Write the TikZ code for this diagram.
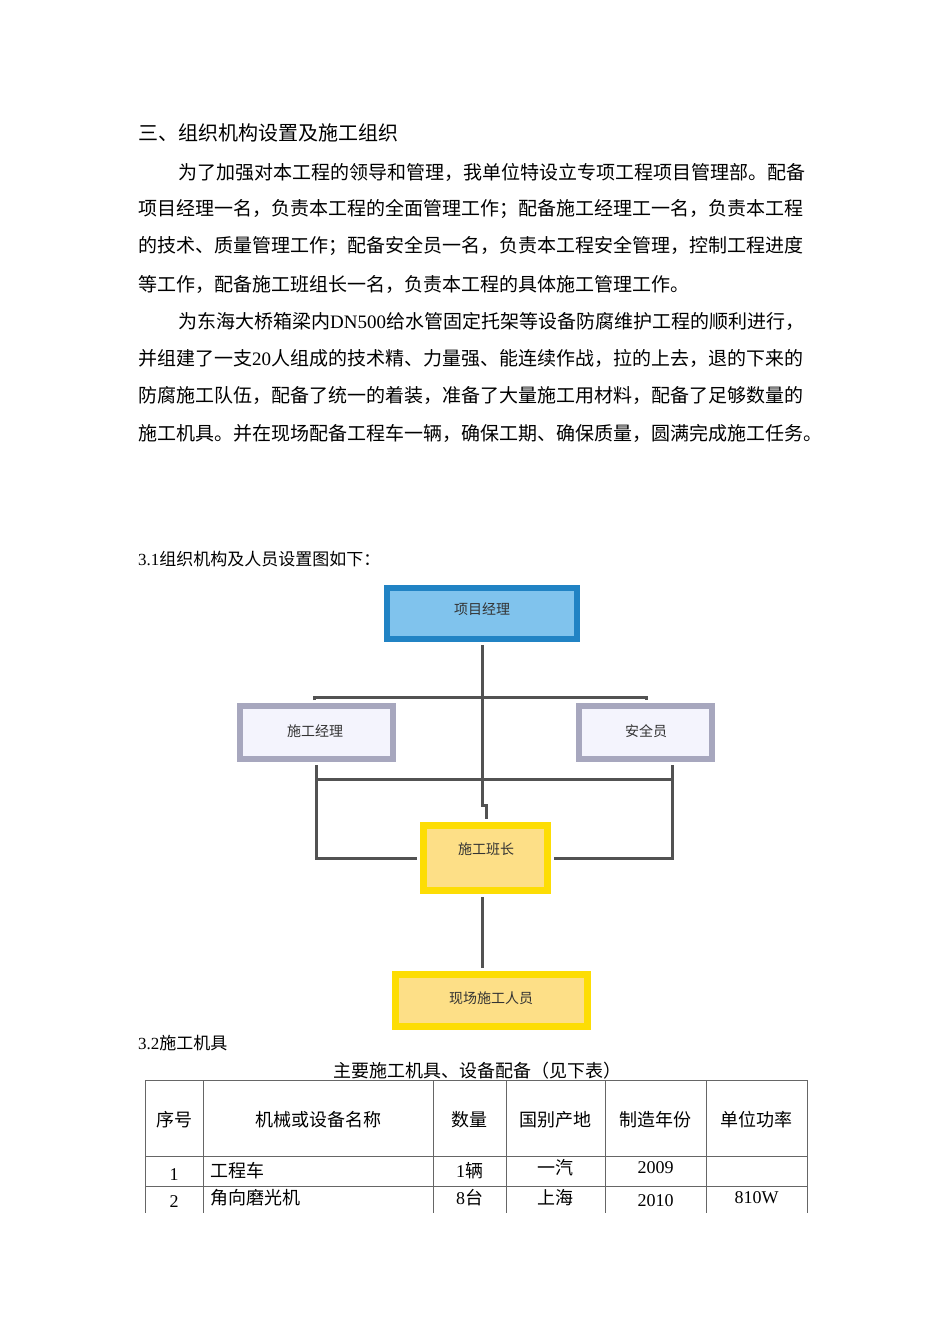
\documentclass[tikz,border=0pt]{standalone}
\usepackage{fontspec}
\setmainfont{Noto Sans CJK SC}
\newfontfamily\tnum{Liberation Serif}
\begin{document}
\begin{tikzpicture}[x=1pt,y=-1pt,
 body/.style={anchor=west,inner sep=0,font=\fontsize{19}{19}\selectfont},
 cell/.style={inner sep=0,font=\fontsize{18}{18}\selectfont},
 dtext/.style={font=\fontsize{14}{14}\selectfont,text=black!80},
 conn/.style={draw=black!68,line width=3pt},
 bluebox/.style={draw=cyan!70!blue!90!black,fill=cyan!45!white!90!blue,line width=6pt},
 graybox/.style={draw=gray!85!blue!60,fill=gray!30!blue!5,line width=6pt},
 yelbox/.style={draw=yellow!80!orange,fill=yellow!50!orange!45!white,line width=7pt}]
\useasboundingbox[fill=white] (0,0) rectangle (950,1344);
\node[body,font=\fontsize{20}{20}\selectfont] (h) at (138,133) {三、组织机构设置及施工组织};
\node[body] (p1) at (178,172) {为了加强对本工程的领导和管理，我单位特设立专项工程项目管理部。配备};
\node[body] (p2) at (138,209) {项目经理一名，负责本工程的全面管理工作；配备施工经理工一名，负责本工程};
\node[body] (p3) at (138,246) {的技术、质量管理工作；配备安全员一名，负责本工程安全管理，控制工程进度};
\node[body] (p4) at (138,284) {等工作，配备施工班组长一名，负责本工程的具体施工管理工作。};
\node[body] (p5) at (178,321) {为东海大桥箱梁内{\tnum DN500}给水管固定托架等设备防腐维护工程的顺利进行，};
\node[body] (p6) at (138,358) {并组建了一支{\tnum 20}人组成的技术精、力量强、能连续作战，拉的上去，退的下来的};
\node[body] (p7) at (138,395) {防腐施工队伍，配备了统一的着装，准备了大量施工用材料，配备了足够数量的};
\node[body] (p8) at (138,433) {施工机具。并在现场配备工程车一辆，确保工期、确保质量，圆满完成施工任务。};
\node[body,font=\fontsize{17}{17}\selectfont] (s1) at (138,559) {{\tnum 3.1}组织机构及人员设置图如下：};
% diagram
\node[bluebox,minimum width=190,minimum height=51] (pm) at (482,613.5) {};
\node[dtext] at (482,609) {项目经理};
\node[graybox,minimum width=153,minimum height=53] (sm) at (316.5,732.5) {};
\node[dtext] at (315,731) {施工经理};
\node[graybox,minimum width=133,minimum height=53] (sa) at (645.5,732.5) {};
\node[dtext] at (646,731) {安全员};
\node[yelbox,minimum width=124,minimum height=65] (bz) at (485.5,858) {};
\node[dtext] at (486,849) {施工班长};
\node[yelbox,minimum width=192,minimum height=52] (xc) at (491.5,1000.5) {};
\node[dtext] at (491,998) {现场施工人员};
\coordinate (jog) at (482,805);
\draw[conn] (pm.south) ++(0,3) -- (jog) -- ++(4,0) -- (486,819);
\draw[conn] (314,700) -- (314,697) -- (646,697) -- (646,700);
\draw[conn] (316,765) -- (316,858) -- (417,858);
\draw[conn] (672,765) -- (672,858) -- (554,858);
\draw[conn] (316,779) -- (672,779);
\draw[conn] (482,897) -- (482,968);
% table
\node[body,font=\fontsize{17}{17}\selectfont] (s2) at (138,1043) {{\tnum 3.2}施工机具};
\node[cell] (cap) at (477,1071) {主要施工机具、设备配备（见下表）};
\draw[black!60,line width=0.8pt] (145,1080) -- (807,1080) (145,1156) -- (807,1156) (145,1186) -- (807,1186);
\foreach \x in {145,203,433,506,605,706,807} \draw[black!60,line width=0.8pt] (\x,1080) -- (\x,1213);
\node[cell] at (174,1120) {序号};
\node[cell] at (318,1120) {机械或设备名称};
\node[cell] at (469.5,1120) {数量};
\node[cell] at (555.5,1120) {国别产地};
\node[cell] at (655.5,1120) {制造年份};
\node[cell] at (756.5,1120) {单位功率};
\node[cell,font=\tnum\fontsize{18}{18}\selectfont] at (174,1175) {1};
\node[cell,anchor=west] at (210,1171) {工程车};
\node[cell] at (469.5,1171) {{\tnum 1}辆};
\node[cell] at (555.5,1168) {一汽};
\node[cell,font=\tnum\fontsize{18}{18}\selectfont] at (655.5,1168) {2009};
\node[cell,font=\tnum\fontsize{18}{18}\selectfont] at (174,1202) {2};
\node[cell,anchor=west] at (210,1198) {角向磨光机};
\node[cell] at (469.5,1198) {{\tnum 8}台};
\node[cell] at (555.5,1198) {上海};
\node[cell,font=\tnum\fontsize{18}{18}\selectfont] at (655.5,1201) {2010};
\node[cell,font=\tnum\fontsize{18}{18}\selectfont] at (756.5,1198) {810W};
\end{tikzpicture}
\end{document}
